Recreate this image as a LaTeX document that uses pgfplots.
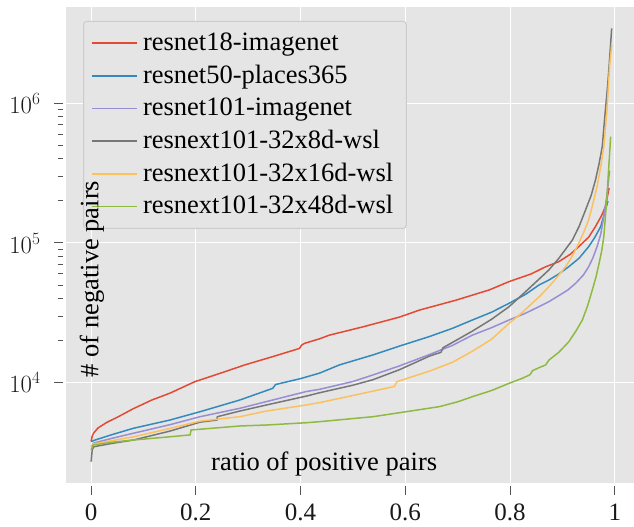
\documentclass[border=0pt]{standalone}
\usepackage{fontspec}
\setmainfont{Liberation Serif}
\usepackage{pgfplots}
\pgfplotsset{compat=1.18}
\definecolor{cred}{HTML}{E24A33}
\definecolor{cblue}{HTML}{348ABD}
\definecolor{cpurple}{HTML}{988ED5}
\definecolor{cgray}{HTML}{777777}
\definecolor{cyellow}{HTML}{FBC15E}
\definecolor{cgreen}{HTML}{8EBA42}
\definecolor{bgc}{HTML}{E5E5E5}
\definecolor{legc}{HTML}{CCCCCC}
\definecolor{tickc}{HTML}{555555}
\begin{document}
\begin{tikzpicture}
\path[use as bounding box] (-66bp,-44bp) rectangle (568bp,483bp);
\begin{axis}[
  at={(0,0)}, anchor=south west,
  scale only axis, width=575bp, height=476bp,
  xmin=-0.048, xmax=1.05,
  ymode=log, ymin=1915, ymax=4.89e6,
  axis background/.style={fill=bgc},
  axis line style={draw=none},
  grid=major, major grid style={white, line width=1bp},
  xtick={0,0.2,0.4,0.6,0.8,1},
  xticklabels={0,0.2,0.4,0.6,0.8,1},
  ytick={1e4,1e5,1e6},
  tick pos=left, tick align=outside,
  major tick length=9bp, minor tick length=5bp,
  tick style={draw=tickc, line width=1bp},
  every x tick/.append style={yshift=-3.5bp},
  every y tick/.append style={xshift=-3bp},
  tick label style={font=\fontsize{25bp}{30bp}\selectfont, text=black!90},
  xticklabel style={yshift=-8bp},
  yticklabel style={xshift=-13bp},
  xlabel={ratio of positive pairs},
  every axis x label/.style={at={(rel axis cs:0.449,0.0258)}, anchor=base,
    font=\fontsize{26.5bp}{30bp}\selectfont},
  legend cell align=left,
  legend image code/.code={\draw[#1] (0bp,0bp) -- (45bp,0bp);},
  legend style={at={(rel axis cs:0.0296,0.9706)}, anchor=north west,
    fill=bgc, draw=legc, line width=1bp, rounded corners=3bp,
    font=\fontsize{26.5bp}{30bp}\selectfont,
    inner xsep=8bp, inner ysep=5.3bp, row sep=0bp,
    nodes={inner xsep=5bp, inner ysep=2bp, text height=21.65bp, text depth=7.05bp}},
  every axis plot/.append style={line width=1.5bp, sharp corners},
]
\addplot[cred] coordinates {
(0,3790) (0.002,4150) (0.005,4370) (0.013,4740) (0.03,5200) (0.052,5710) (0.08,6500)
(0.1156,7510) (0.15,8400) (0.198,10170) (0.25,11800) (0.293,13390) (0.35,15500) (0.398,17600)
(0.402,18600) (0.408,19150) (0.436,20600) (0.455,21900) (0.519,25100) (0.589,29500)
(0.627,33100) (0.697,39000) (0.76,46100) (0.798,52900) (0.84,60000) (0.868,67600)
(0.893,73500) (0.915,83000) (0.931,94000) (0.95,110000) (0.963,131000) (0.975,158000) (0.982,182000) (0.989,247000)};
\addlegendentry{resnet18-imagenet}
\addplot[cblue] coordinates {
(0,3790) (0.0076,3890) (0.04,4250) (0.081,4720) (0.15,5400) (0.208,6200) (0.284,7520)
(0.347,9120) (0.352,9700) (0.4,10700) (0.436,11700) (0.474,13400) (0.538,15800) (0.589,18300)
(0.646,21400) (0.69,24500) (0.728,28100) (0.765,32000) (0.798,37000) (0.83,43000) (0.855,50000) (0.874,54300)
(0.893,60000) (0.912,67600) (0.932,78000) (0.95,94000) (0.962,110000) (0.973,131000) (0.982,172000) (0.987,200000)};
\addlegendentry{resnet50-places365}
\addplot[cpurple] coordinates {
(0,3480) (0.005,3700) (0.04,4000) (0.081,4350) (0.15,5000) (0.208,5710) (0.284,6560)
(0.335,7330) (0.411,8650) (0.436,8960) (0.5,10200) (0.538,11360) (0.589,13200) (0.646,15900)
(0.69,18500) (0.728,21900) (0.765,24800) (0.798,28100) (0.83,31500) (0.855,35000) (0.874,38000)
(0.893,42000) (0.91,46000) (0.925,51400) (0.94,59000) (0.95,67600) (0.958,78000) (0.966,94000) (0.973,115000)
(0.979,155000) (0.985,220000) (0.99,330000)};
\addlegendentry{resnet101-imagenet}
\addplot[cgray] coordinates {
(0,2720) (0.002,3300) (0.005,3480) (0.04,3680) (0.081,3890) (0.15,4500) (0.208,5220) (0.24,5400)
(0.241,5710) (0.284,6270) (0.335,6930) (0.411,8020) (0.436,8470) (0.5,9600) (0.538,10500) (0.589,12400)
(0.646,15500) (0.668,16500) (0.672,17800) (0.728,23400) (0.765,28500) (0.798,35000) (0.83,45000)
(0.855,55000) (0.874,64100) (0.893,77600) (0.919,105000) (0.932,132000) (0.944,172000) (0.955,220000)
(0.963,282000) (0.97,370000) (0.976,490000) (0.982,896000) (0.986,1300000) (0.989,1830000) (0.994,3440000)};
\addlegendentry{resnext101-32x8d-wsl}
\addplot[cyellow] coordinates {
(0,3480) (0.005,3650) (0.04,3850) (0.081,4100) (0.15,4700) (0.208,5310) (0.284,5710) (0.335,6270)
(0.411,6930) (0.436,7200) (0.506,8190) (0.579,9400) (0.584,10170) (0.646,12100) (0.69,14000)
(0.728,16800) (0.765,20500) (0.798,26600) (0.822,31500) (0.842,37000) (0.858,42000) (0.874,48600)
(0.89,57000) (0.906,67600) (0.92,82000) (0.931,99500) (0.941,120000) (0.95,146000) (0.958,190000)
(0.966,253000) (0.973,350000) (0.979,490000) (0.985,895000) (0.99,1830000) (0.994,2610000)};
\addlegendentry{resnext101-32x16d-wsl}
\addplot[cgreen] coordinates {
(0,3300) (0.004,3580) (0.04,3750) (0.081,3890) (0.15,4100) (0.189,4230) (0.191,4590)
(0.284,4900) (0.335,4980) (0.411,5170) (0.436,5260) (0.538,5710) (0.589,6100) (0.665,6740)
(0.7,7300) (0.728,7940) (0.765,8800) (0.798,9900) (0.822,10700) (0.838,11400) (0.843,12200)
(0.855,12800) (0.868,13400) (0.874,14500) (0.893,16500) (0.912,19600) (0.926,23500) (0.938,28100)
(0.948,35500) (0.957,46100) (0.964,57000) (0.970,71600) (0.975,88000) (0.979,111000)
(0.985,214000) (0.992,577000)};
\addlegendentry{resnext101-32x48d-wsl}
\end{axis}
\node[rotate=90, anchor=base, inner sep=0pt, font=\fontsize{26.5bp}{30bp}\selectfont]
  at (32.3bp,204bp) {\# of negative pairs};
\end{tikzpicture}
\end{document}
